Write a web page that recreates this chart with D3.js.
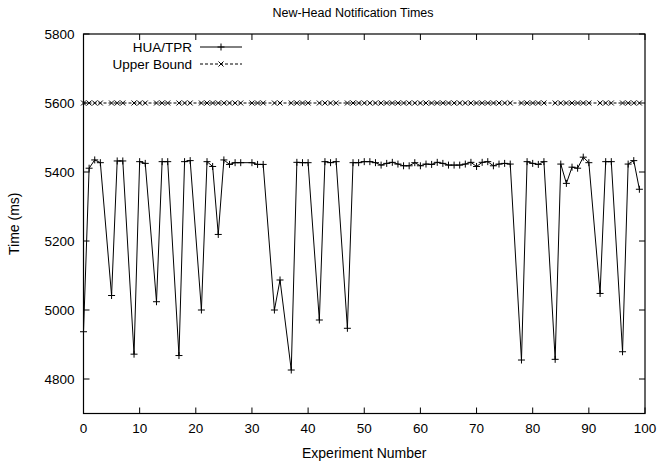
<!DOCTYPE html>
<html>
<head>
<meta charset="utf-8">
<script src="https://cdn.jsdelivr.net/npm/d3@7"></script>
<style>
  body { margin: 0; background: #fff; }
  svg { display: block; font-family: "Liberation Sans", Arial, sans-serif; }
</style>
</head>
<body>
<div id="chart"></div>
<script>
// experiment numbers that have a measurement (some runs are missing)
const experiments = [
  0, 1, 2, 3, 5, 6, 7, 9, 10, 11, 13, 14, 15, 17, 18, 19, 21, 22, 23, 24,
  25, 26, 27, 28, 30, 31, 32, 34, 35, 37, 38, 39, 40, 42, 43, 44, 45, 47,
  48, 49, 50, 51, 52, 53, 54, 55, 56, 57, 58, 59, 60, 61, 62, 63, 64, 65,
  66, 67, 68, 69, 70, 71, 72, 73, 74, 75, 76, 78, 79, 80, 81, 82, 84, 85,
  86, 87, 88, 89, 90, 92, 93, 94, 96, 97, 98, 99
];
const huaTimes = [
  4937, 5411, 5435, 5427, 5042, 5432, 5432, 4872, 5430, 5425, 5024, 5430, 5430, 4868, 5430, 5433, 5000, 5430, 5416, 5219,
  5435, 5422, 5427, 5427, 5427, 5422, 5422, 5000, 5087, 4826, 5428, 5427, 5427, 4971, 5430, 5427, 5430, 4947,
  5427, 5427, 5430, 5430, 5427, 5420, 5425, 5428, 5423, 5418, 5418, 5427, 5418, 5423, 5422, 5428, 5425, 5420,
  5420, 5420, 5423, 5428, 5416, 5428, 5430, 5418, 5423, 5425, 5423, 4855, 5430, 5425, 5422, 5430, 4857, 5423,
  5367, 5414, 5411, 5443, 5427, 5048, 5430, 5430, 4879, 5423, 5433, 5350
];
const upperBound = experiments.map(() => 5600);

const xTicks = [0, 10, 20, 30, 40, 50, 60, 70, 80, 90, 100];
const yTicks = [4800, 5000, 5200, 5400, 5600, 5800];

const W = 659, H = 465;
const margin = { top: 34, right: 14, bottom: 51.5, left: 83.5 };
const iw = W - margin.left - margin.right;
const ih = H - margin.top - margin.bottom;

const svg = d3.select('#chart').append('svg')
  .attr('width', W).attr('height', H);

const x = d3.scaleLinear().domain([0, 100]).range([0, iw]);
const y = d3.scaleLinear().domain([4700, 5800]).range([ih, 0]);

const g = svg.append('g').attr('transform', `translate(${margin.left},${margin.top})`);

// title and axis labels
svg.append('text')
  .attr('x', 353).attr('y', 16.5)
  .attr('text-anchor', 'middle').attr('font-size', '12.5px')
  .text('New-Head Notification Times');

svg.append('text')
  .attr('x', margin.left + iw / 2).attr('y', 458)
  .attr('text-anchor', 'middle').attr('font-size', '14px')
  .text('Experiment Number');

svg.append('text')
  .attr('transform', `translate(19,${margin.top + ih / 2}) rotate(-90)`)
  .attr('text-anchor', 'middle').attr('font-size', '14px')
  .text('Time (ms)');

// ticks: gnuplot style, inward on all four sides
const tickLen = 6;
const ticks = g.append('g').attr('stroke', '#000').attr('stroke-width', 1);
xTicks.forEach(t => {
  ticks.append('line').attr('x1', x(t)).attr('x2', x(t)).attr('y1', ih).attr('y2', ih - tickLen);
  ticks.append('line').attr('x1', x(t)).attr('x2', x(t)).attr('y1', 0).attr('y2', tickLen);
});
yTicks.forEach(t => {
  ticks.append('line').attr('x1', 0).attr('x2', tickLen).attr('y1', y(t)).attr('y2', y(t));
  ticks.append('line').attr('x1', iw).attr('x2', iw - tickLen).attr('y1', y(t)).attr('y2', y(t));
});

g.append('g').selectAll('text').data(xTicks).join('text')
  .attr('x', d => x(d)).attr('y', ih + 19)
  .attr('text-anchor', 'middle').attr('font-size', '13.5px')
  .text(d => d);

g.append('g').selectAll('text').data(yTicks).join('text')
  .attr('x', -9).attr('y', d => y(d)).attr('dy', '0.35em')
  .attr('text-anchor', 'end').attr('font-size', '13.5px')
  .text(d => d);

// frame
g.append('rect')
  .attr('width', iw).attr('height', ih)
  .attr('fill', 'none').attr('stroke', '#000').attr('stroke-width', 1.2);

const plus = (sel, cx, cy, s) => {
  sel.append('path').attr('d', `M${cx - s},${cy}H${cx + s}M${cx},${cy - s}V${cy + s}`);
};
const cross = (sel, cx, cy, s) => {
  sel.append('path').attr('d', `M${cx - s},${cy - s}L${cx + s},${cy + s}M${cx - s},${cy + s}L${cx + s},${cy - s}`);
};

// upper bound series
const ubData = experiments.map((e, i) => [e, upperBound[i]]);
const line = d3.line().x(d => x(d[0])).y(d => y(d[1]));
g.append('path').datum(ubData)
  .attr('d', line).attr('fill', 'none')
  .attr('stroke', '#000').attr('stroke-width', 1).attr('stroke-dasharray', '3,2');
const ubMarks = g.append('g').attr('stroke', '#000').attr('stroke-width', 1).attr('fill', 'none');
ubData.forEach(d => cross(ubMarks, x(d[0]), y(d[1]), 2.5));

// HUA/TPR series
const huaData = experiments.map((e, i) => [e, huaTimes[i]]);
g.append('path').datum(huaData)
  .attr('d', line).attr('fill', 'none')
  .attr('stroke', '#000').attr('stroke-width', 1);
const huaMarks = g.append('g').attr('stroke', '#000').attr('stroke-width', 1).attr('fill', 'none');
huaData.forEach(d => plus(huaMarks, x(d[0]), y(d[1]), 3.5));

// legend
const legend = svg.append('g').attr('font-size', '13.5px');
const rows = [
  { label: 'HUA/TPR', dash: null, mark: plus },
  { label: 'Upper Bound', dash: '3,2', mark: cross }
];
rows.forEach((r, i) => {
  const ly = 47 + i * 17;
  legend.append('text')
    .attr('x', 192).attr('y', ly).attr('dy', '0.35em')
    .attr('text-anchor', 'end').text(r.label);
  legend.append('line')
    .attr('x1', 200).attr('x2', 242).attr('y1', ly).attr('y2', ly)
    .attr('stroke', '#000').attr('stroke-width', 1)
    .attr('stroke-dasharray', r.dash);
  const m = legend.append('g').attr('stroke', '#000').attr('stroke-width', 1).attr('fill', 'none');
  r.mark(m, 221, ly, i === 0 ? 3.5 : 2.5);
});
</script>
</body>
</html>
